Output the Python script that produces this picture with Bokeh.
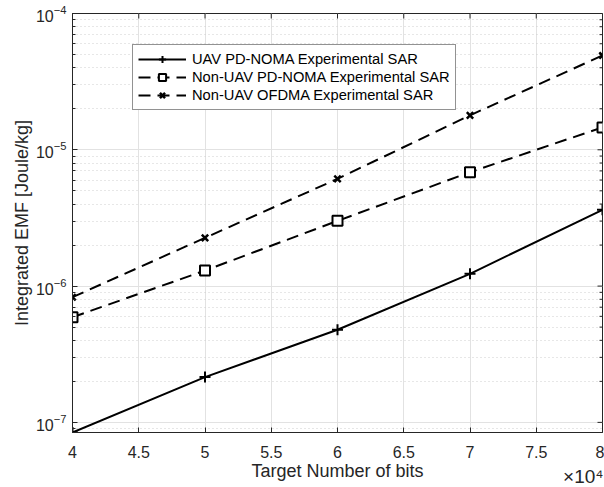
import math
from bokeh.plotting import figure
from bokeh.models import (FixedTicker, Range1d, Legend, LegendItem, Title)
from bokeh.embed import file_html
from bokeh.resources import INLINE

# ---- data ----
bits = [40000, 50000, 60000, 70000, 80000]
uav_pd_noma = [8.43e-8, 2.15e-7, 4.78e-7, 1.23e-6, 3.63e-6]
nonuav_pd_noma = [5.91e-7, 1.30e-6, 3.01e-6, 6.85e-6, 1.46e-5]
nonuav_ofdma = [8.29e-7, 2.26e-6, 6.12e-6, 1.79e-5, 4.92e-5]

x_ticks = [40000, 45000, 50000, 55000, 60000, 65000, 70000, 75000, 80000]
x_tick_labels = ["4", "4.5", "5", "5.5", "6", "6.5", "7", "7.5", "8"]
x_multiplier = "×10⁴"
y_major = [1e-7, 1e-6, 1e-5, 1e-4]
y_bottom = min(uav_pd_noma)
y_top = 1e-4

FONT = "Liberation Sans"
AX = "#262626"

p = figure(width=604, height=487, output_backend="svg", toolbar_location=None,
           y_axis_type="log",
           x_range=Range1d(min(bits), max(bits)),
           y_range=Range1d(y_bottom, y_top),
           min_border_left=72, min_border_right=2, min_border_top=13, min_border_bottom=55)

p.background_fill_color = "white"
p.border_fill_color = "white"
p.outline_line_color = AX
p.outline_line_width = 1

xt = FixedTicker(ticks=x_ticks, minor_ticks=[])
p.xaxis.ticker = xt
p.xaxis.major_label_overrides = {t: l for t, l in zip(x_ticks, x_tick_labels)}
p.xaxis.axis_label = "Target Number of bits"
p.yaxis.axis_label = "Integrated EMF [Joule/kg]"

for ax in (p.xaxis[0], p.yaxis[0]):
    ax.axis_line_color = AX
    ax.major_tick_line_color = AX
    ax.minor_tick_line_color = AX
    ax.major_tick_in = 5
    ax.major_tick_out = 0
    ax.minor_tick_in = 3
    ax.minor_tick_out = 0
    ax.major_label_text_font = FONT
    ax.major_label_text_font_size = "16px"
    ax.major_label_text_color = AX
    ax.axis_label_text_font = FONT
    ax.axis_label_text_font_size = "18px"
    ax.axis_label_text_font_style = "normal"
    ax.axis_label_text_color = AX

p.xaxis.major_label_standoff = 13
p.xaxis.axis_label_standoff = 0
p.yaxis.major_label_standoff = 6
p.yaxis.axis_label_standoff = 1

# x10^4 multiplier as a right-aligned title under the x axis
mult = Title(text=x_multiplier, align="right", vertical_align="top", text_font=FONT,
             text_font_size="19px", text_font_style="normal", text_color=AX,
             standoff=-36, offset=-1)
p.add_layout(mult, "below")

# grids
p.xgrid.grid_line_color = "#e2e2e2"
p.ygrid.grid_line_color = "#e2e2e2"
p.ygrid.minor_grid_line_color = "#cfcfcf"
p.ygrid.minor_grid_line_dash = "1 3"

# ticks on the top and right frame edges (half of each dash is clipped by the frame)
p.scatter(x_ticks, [y_top] * len(x_ticks), marker="dash", angle=math.pi / 2, size=10,
          line_color=AX, line_width=1)
y_minor = [k * d for d in y_major[:-1] for k in range(2, 10)]
p.scatter([max(bits)] * len(y_major), y_major, marker="dash", size=10, line_color=AX, line_width=1)
p.scatter([max(bits)] * len(y_minor), y_minor, marker="dash", size=6, line_color=AX, line_width=1)

# series
DASH = "12 7"
l1 = p.line(bits, uav_pd_noma, line_color="black", line_width=2)
m1 = p.scatter(bits, uav_pd_noma, marker="cross", size=11, line_color="black", line_width=2)
l2 = p.line(bits, nonuav_pd_noma, line_color="black", line_width=2, line_dash=DASH)
m2 = p.scatter(bits, nonuav_pd_noma, marker="square", size=10, line_color="black",
               fill_color="white", line_width=2)
l3 = p.line(bits, nonuav_ofdma, line_color="black", line_width=2, line_dash=DASH)
m3 = p.scatter(bits, nonuav_ofdma, marker="x", size=9, line_color="black", line_width=2.5)

legend = Legend(items=[
    LegendItem(label="UAV PD-NOMA Experimental SAR", renderers=[l1, m1]),
    LegendItem(label="Non-UAV PD-NOMA Experimental SAR", renderers=[l2, m2]),
    LegendItem(label="Non-UAV OFDMA Experimental SAR", renderers=[l3, m3]),
], location=(60, 322))
legend.border_line_color = AX
legend.border_line_width = 1
legend.background_fill_color = "white"
legend.background_fill_alpha = 1
legend.label_text_font = FONT
legend.label_text_font_size = "14.7px"
legend.label_text_color = "black"
legend.glyph_width = 48
legend.glyph_height = 18
legend.label_height = 18
legend.spacing = 0
legend.padding = 5
legend.margin = 0
legend.label_standoff = 6
p.add_layout(legend, "center")

open("out.html", "w").write(file_html(p, INLINE))
